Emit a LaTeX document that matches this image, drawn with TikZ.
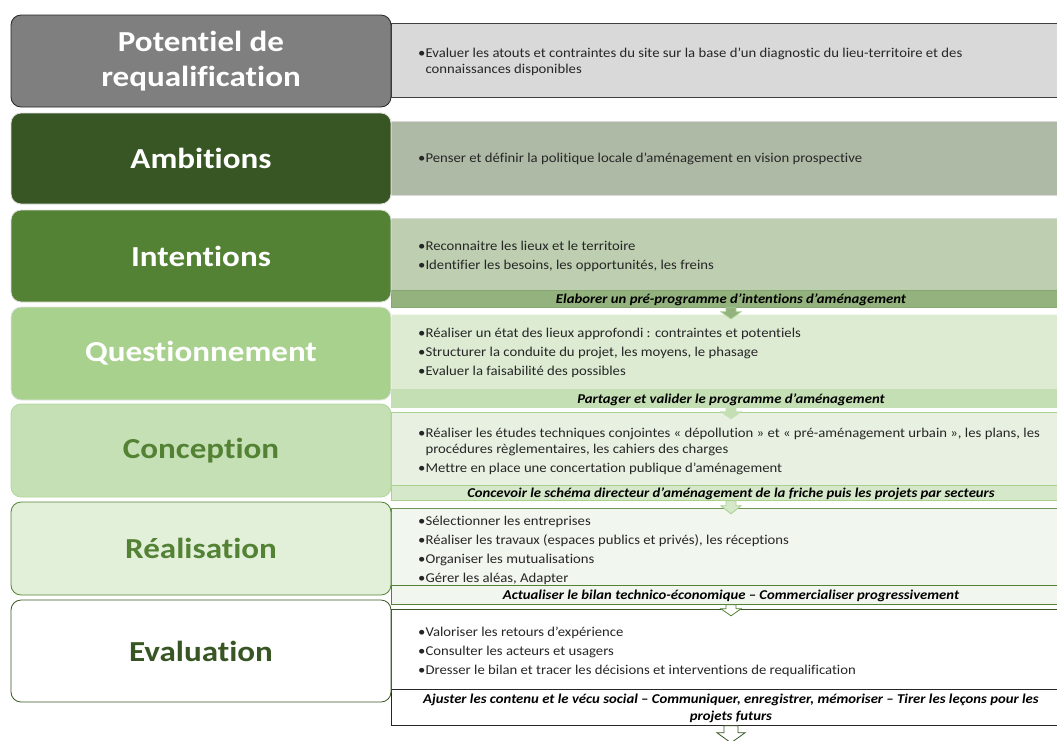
\documentclass[tikz,border=0pt]{standalone}
\usepackage{fontspec}
\setmainfont{Carlito}
\newfontfamily\titlefont[FakeStretch=1.14,Ligatures=NoCommon]{Carlito}
\newfontfamily\bodyfont[FakeStretch=1.09,Ligatures=NoCommon]{Carlito}
\definecolor{gA}{HTML}{7F7F7F}
\definecolor{gB}{HTML}{375623}
\definecolor{gC}{HTML}{548235}
\definecolor{gD}{HTML}{A9D18E}
\definecolor{gE}{HTML}{C5E0B4}
\definecolor{gF}{HTML}{E2F0D9}
\definecolor{rA}{HTML}{D9D9D9}
\definecolor{rB}{HTML}{AEBAA6}
\definecolor{rC}{HTML}{BECFB1}
\definecolor{bC}{HTML}{93B27E}
\definecolor{rD}{HTML}{DDEBD3}
\definecolor{bD}{HTML}{C5DFB4}
\definecolor{rE}{HTML}{E8F1E1}
\definecolor{bE}{HTML}{D6E8CA}
\definecolor{rF}{HTML}{F1F6EE}
\definecolor{txt}{HTML}{262626}
\begin{document}
\begin{tikzpicture}[x=1pt,y=-1pt,
  lbox/.style={rounded corners=10pt, minimum width=380pt, line width=0.8pt, align=center,
    font=\titlefont\fontsize{29}{35}\selectfont\bfseries, inner sep=0pt},
  rpanel/.style={minimum width=666pt, anchor=north west, inner sep=0pt, line width=0.8pt},
  btext/.style={anchor=west, align=left, font=\bodyfont\fontsize{13.5}{19}\selectfont, inner sep=0pt, text=txt},
  bartext/.style={font=\bodyfont\fontsize{13.5}{17}\selectfont\bfseries\itshape, inner sep=0pt, align=center, text=black},
  blockarrow/.style={line width=0.8pt, line join=miter},
]
\useasboundingbox (0,0) rectangle (1057,740);

% right panels
\node[rpanel, fill=rA, draw=black!75, minimum height=74pt] (r1) at (391,23) {};
\node[rpanel, fill=rB, draw=black!15, minimum height=74pt] (r2) at (391,121) {};
\node[rpanel, fill=rC, draw=white!85!black, minimum height=72pt] (r3) at (391,218) {};
\node[rpanel, fill=bC, draw=gC!70, minimum height=17pt] (b3) at (391,290) {};
\node[rpanel, fill=rD, draw=white!85!gD, minimum height=75pt] (r4) at (391,314) {};
\node[rpanel, fill=bD, draw=bD, minimum height=18pt] (b4) at (391,389) {};
\node[rpanel, fill=rE, draw=gD, minimum height=73pt] (r5) at (391,412) {};
\node[rpanel, fill=bE, draw=gD, minimum height=15pt] (b5) at (391,485) {};
\node[rpanel, fill=rF, draw=gC!85, minimum height=77pt] (r6) at (391,508) {};
\node[rpanel, fill=rF, draw=gC, minimum height=19pt] (b6) at (391,585) {};
\node[rpanel, fill=white, draw=gB, minimum height=80pt] (r7) at (391,609) {};
\node[rpanel, fill=white, draw=black!85, minimum height=36pt] (b7) at (391,689) {};

% left boxes
\node[lbox, fill=gA, draw=black!85, minimum height=92pt, text=white] (l1) at (201,61)
  {Potentiel de\\requalification};
\node[lbox, fill=gB, draw=black!12, minimum height=91pt, text=white] (l2) at (201,158.5) {Ambitions};
\node[lbox, fill=gC, draw=black!12, minimum height=92pt, text=white] (l3) at (201,256) {Intentions};
\node[lbox, fill=gD, draw=black!10, minimum height=93pt, text=white] (l4) at (201,353.5) {Questionnement};
\node[lbox, fill=gE, draw=gD!90, minimum height=93pt, text=gC] (l5) at (201,450.5) {Conception};
\node[lbox, fill=gF, draw=gC, minimum height=93pt, text=gC] (l6) at (201,548.5) {Réalisation};
\node[lbox, fill=white, draw=gB, minimum height=102pt, text=gB] (l7) at (201,651) {Evaluation};

% bullet texts
\node[btext, font=\bodyfont\fontsize{13.5}{16}\selectfont] (x1) at (418,62)
  {\textbullet Evaluer les atouts et contraintes du site sur la base d’un diagnostic du lieu-territoire et des\\
   \hphantom{\textbullet}connaissances disponibles};
\node[btext] (x2) at (418,159) {\textbullet Penser et définir la politique locale d’aménagement en vision prospective};
\node[btext] (x3) at (418,256.5)
  {\textbullet Reconnaitre les lieux et le territoire\\\textbullet Identifier les besoins, les opportunités, les freins};
\node[btext] (x4) at (418,353)
  {\textbullet Réaliser un état des lieux approfondi : contraintes et potentiels\\
   \textbullet Structurer la conduite du projet, les moyens, le phasage\\
   \textbullet Evaluer la faisabilité des possibles};
\node[btext] (x5) at (418,451.5)
  {\textbullet Réaliser les études techniques conjointes « dépollution » et « pré-aménagement urbain », les plans, les\\[-3pt]
   \hphantom{\textbullet}procédures règlementaires, les cahiers des charges\\
   \textbullet Mettre en place une concertation publique d’aménagement};
\node[btext] (x6) at (418,550.5)
  {\textbullet Sélectionner les entreprises\\
   \textbullet Réaliser les travaux (espaces publics et privés), les réceptions\\
   \textbullet Organiser les mutualisations\\
   \textbullet Gérer les aléas, Adapter};
\node[btext] (x7) at (418,652)
  {\textbullet Valoriser les retours d’expérience\\
   \textbullet Consulter les acteurs et usagers\\
   \textbullet Dresser le bilan et tracer les décisions et interventions de requalification};

% bar texts
\node[bartext] (t3) at (731,299.5) {Elaborer un pré-programme d’intentions d’aménagement};
\node[bartext] (t4) at (731,399.5) {Partager et valider le programme d’aménagement};
\node[bartext] (t5) at (731,493.5) {Concevoir le schéma directeur d’aménagement de la friche puis les projets par secteurs};
\node[bartext] (t6) at (731,595.5) {Actualiser le bilan technico-économique – Commercialiser progressivement};
\node[bartext] (t7) at (731,708) {Ajuster les contenu et le vécu social – Communiquer, enregistrer, mémoriser – Tirer les leçons pour les\\projets futurs};

% block arrows
\coordinate (a3) at (b3.south -| t3.center);
\coordinate (a4) at (b4.south -| t4.center);
\coordinate (a5) at (b5.south -| t5.center);
\coordinate (a6) at (b6.south -| t6.center);
\coordinate (a7) at (b7.south -| t7.center);
\path[blockarrow, fill=bC, draw=gD] (a3) +(-5,0) -- +(-5,4) -- +(-10,4) -- +(0,11) -- +(10,4) -- +(5,4) -- +(5,0) -- cycle;
\path[blockarrow, fill=bD, draw=bD] (a4) +(-5,0) -- +(-5,4) -- +(-10,4) -- +(0,11) -- +(10,4) -- +(5,4) -- +(5,0) -- cycle;
\path[blockarrow, fill=bE, draw=gD] (a5) +(-5,0) -- +(-5,5) -- +(-10,5) -- +(0,13) -- +(10,5) -- +(5,5) -- +(5,0) -- cycle;
\path[blockarrow, fill=white, draw=gC] (a6) +(-5,0) -- +(-5,4) -- +(-10,4) -- +(0,11) -- +(10,4) -- +(5,4) -- +(5,0) -- cycle;
\path[blockarrow, fill=white, draw=gB] (a7) +(-7,0) -- +(-7,7) -- +(-14,7) -- +(0,17) -- +(14,7) -- +(7,7) -- +(7,0) -- cycle;
\end{tikzpicture}
\end{document}
